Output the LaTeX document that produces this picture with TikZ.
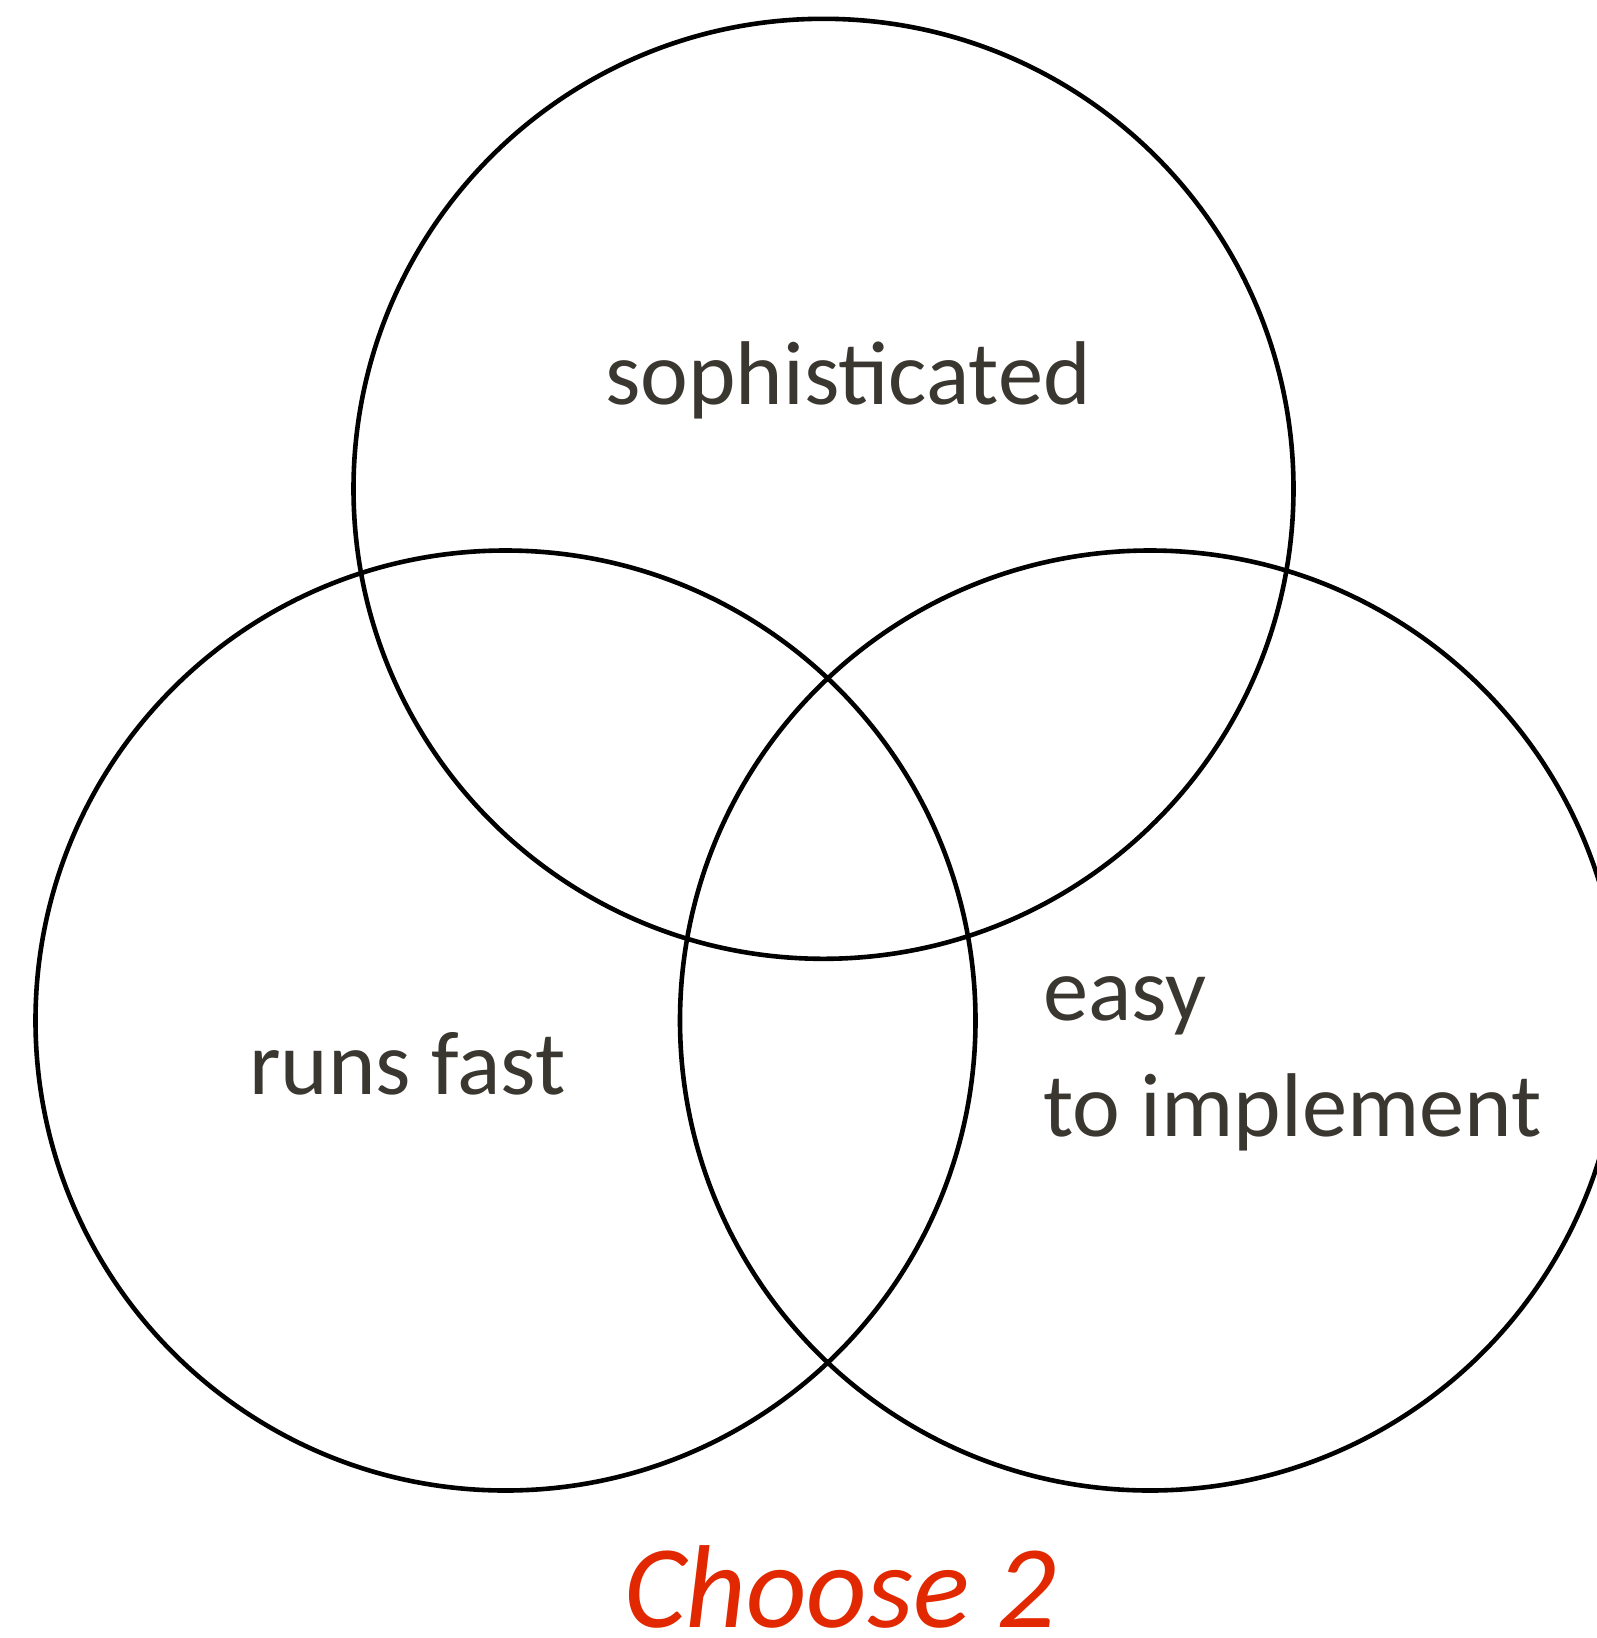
\documentclass[tikz,border=0pt]{standalone}
\usepackage{fontspec}
\setmainfont{Carlito}
\definecolor{txtgray}{HTML}{3A3630}
\definecolor{chred}{HTML}{E12800}
\begin{document}
\begin{tikzpicture}[x=1pt,y=-1pt,
  ring/.style={circle,draw=black,line width=4.6pt,minimum size=940pt,inner sep=0pt},
  lbl/.style={anchor=base west,inner sep=0pt,text=txtgray,font=\fontsize{90.5}{116}\selectfont},
  choose/.style={anchor=base west,inner sep=0pt,text=chred,font=\fontsize{118}{140}\selectfont\itshape}]
\useasboundingbox (0,0) rectangle (1597,1638);
\node[ring] (top) at (823.5,488.8) {};
\node[ring] (left) at (505.5,1020.5) {};
\node[ring] (right) at (1150,1020.5) {};
\node[lbl] (soph) at (605,404) {sophisticated};
\node[lbl] (runs) at (249,1094) {runs fast};
\node[lbl] (easy) at (1043,1020.5) {easy};
\node[lbl] (impl) at (1043,1136.4) {to implement};
\node[choose] (ch) at (624,1627) {Choose 2};
\end{tikzpicture}
\end{document}
